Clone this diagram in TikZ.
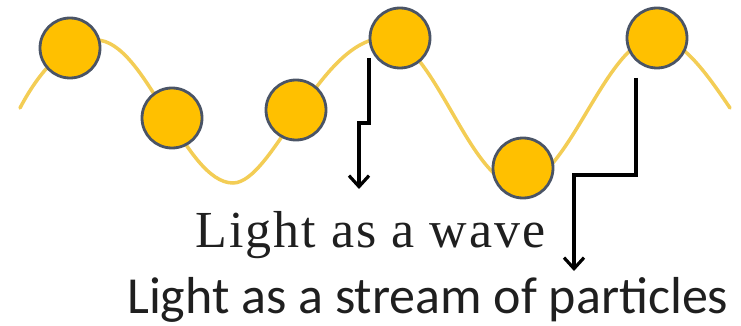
\documentclass[tikz,border=0pt]{standalone}
\usepackage{fontspec}
\setmainfont{Liberation Serif}
\newfontfamily\wavefont[LetterSpace=4]{Liberation Serif}
\newfontfamily\partfont{Carlito}
\usetikzlibrary{arrows.meta}
\definecolor{ballfill}{HTML}{FFC000}
\definecolor{balledge}{HTML}{4A5466}
\definecolor{wavecol}{HTML}{F3CD55}
\tikzset{
  wave/.style={draw=wavecol, line width=3.5pt, line cap=round},
  ball/.style={circle, draw=balledge, fill=ballfill, line width=2.8pt, minimum size=60pt, inner sep=0pt},
  pointer/.style={draw=black, line width=3.4pt, -{Straight Barb[length=11pt,width=20pt,line width=3.2pt]}},
  label/.style={inner sep=0pt, anchor=base west, text=black!88}
}
\begin{document}
\begin{tikzpicture}[x=1pt, y=-1pt]
\useasboundingbox (0,0) rectangle (741,326);
\clip (0,0) rectangle (741,326);
\draw[wave] (20,108) .. controls (42,66) and (70,40) .. (96,40)
  .. controls (146,40) and (184,183) .. (233,183)
  .. controls (273,183) and (320,38) .. (385,38)
  .. controls (433,38) and (470,185) .. (518,185)
  .. controls (568,185) and (606,38) .. (656,38)
  .. controls (681,38) and (705,71) .. (730,108);
\node[ball] (b1) at (70,48) {};
\node[ball] (b2) at (172,118) {};
\node[ball] (b3) at (296,110) {};
\node[ball] (b4) at (400,38) {};
\node[ball] (b5) at (523,168) {};
\node[ball] (b6) at (657,38) {};
\node[label, font=\wavefont\fontsize{52}{56}\selectfont] (wave) at (195,247) {Light as a wave};
\node[label, font=\partfont\fontsize{52}{58}\selectfont] (parts) at (127,313) {Light as a stream of particles};
\coordinate (a1s) at (369,58);
\coordinate (a1k) at (369,123);
\coordinate (a1j) at (359,123);
\coordinate (a1e) at (359,189);
\coordinate (a2s) at (636,78);
\coordinate (a2k) at (636,175);
\coordinate (a2j) at (574,175);
\coordinate (a2e) at (574,271);
\draw[pointer] (a1s) -- (a1k) -- (a1j) -- (a1e);
\draw[pointer] (a2s) -- (a2k) -- (a2j) -- (a2e);
\end{tikzpicture}
\end{document}
